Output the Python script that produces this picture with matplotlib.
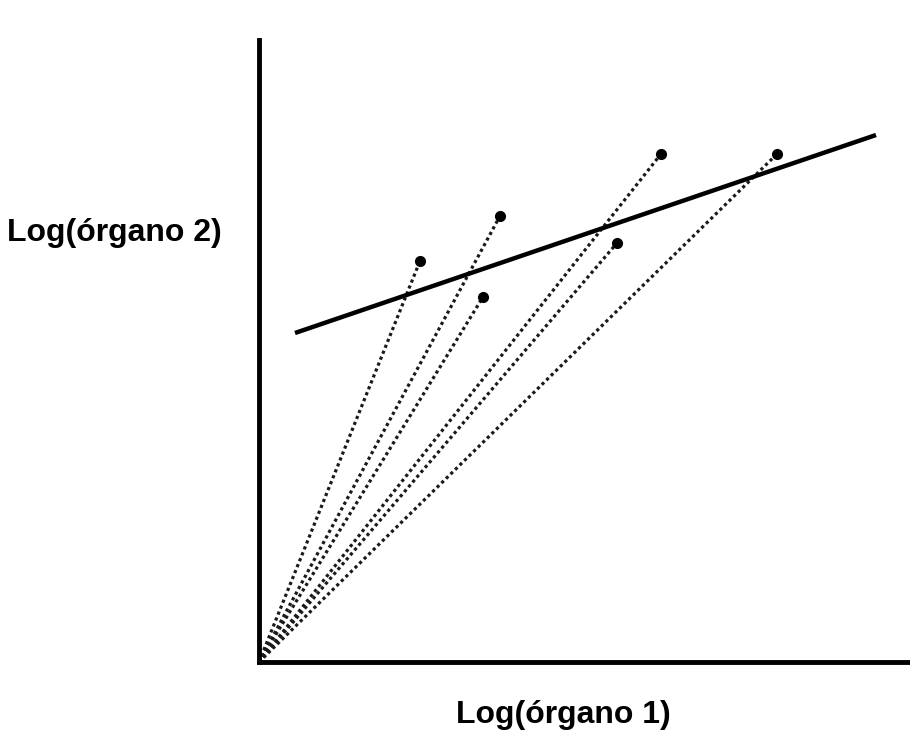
import numpy as np
import matplotlib.pyplot as plt

plt.rcParams['font.family'] = ['Liberation Sans', 'DejaVu Sans']

# point positions (arbitrary log units, origin at the axes corner)
pts_x = [1.61, 2.41, 2.24, 4.02, 3.58, 5.18]
pts_y = [4.01, 4.46, 3.65, 5.08, 4.19, 5.08]

# fitted (allometric) line end points
fit_x = [0.36, 6.17]
fit_y = [3.29, 5.27]

xlabel = "Log(órgano 1)"
ylabel = "Log(órgano 2)"

fig = plt.figure(figsize=(9.10, 7.42), dpi=100)
ax = fig.add_axes([0.2846, 0.1078, 0.7154, 0.8383])

for x, y in zip(pts_x, pts_y):
    ax.plot([0, x], [0, y], color='#1a1a1a', lw=2.3, linestyle=(0, (1, 1.0)),
            solid_capstyle='butt', zorder=2)

ax.plot(pts_x, pts_y, 'o', color='black', markersize=7, zorder=3)
ax.plot(fit_x, fit_y, color='black', lw=3.2, solid_capstyle='butt', zorder=4)

ax.set_xlim(0, 6.51)
ax.set_ylim(0, 6.22)
ax.spines['top'].set_visible(False)
ax.spines['right'].set_visible(False)
ax.spines['left'].set_linewidth(3.5)
ax.spines['bottom'].set_linewidth(3.5)
ax.set_xticks([])
ax.set_yticks([])

fig.text(114.5 / 910, 1 - 233 / 742, ylabel, fontsize=23, fontweight='bold',
         ha='center', va='center')
fig.text(563 / 910, 1 - 715 / 742, xlabel, fontsize=23, fontweight='bold',
         ha='center', va='center')

fig.savefig('out.png', dpi=100)
